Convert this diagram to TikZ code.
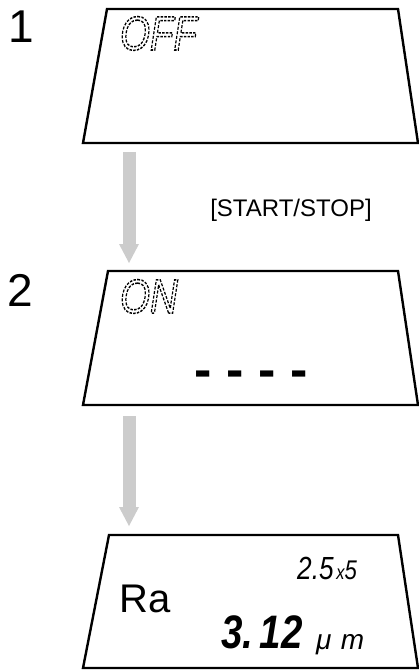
\documentclass[tikz,border=0pt]{standalone}
\usepackage{fontspec}
\setmainfont{Liberation Sans}
\usepackage{xcolor}
\usepackage{tikz}
\usetikzlibrary{
	arrows.meta
}
\definecolor{ArrowGray}{RGB}{204,204,204}
% 段码轮廓字（虚线描边）
\newcommand{\lcdoutline}[1]{\special{pdf:literal direct 1 Tr 1.5 w [3 1.6] 0 d}#1\special{pdf:literal direct 0 Tr [] 0 d}}

\begin{document}
\begin{tikzpicture}[x=1pt,y=-1pt,
		panel/.style={line width=2.4pt,line join=miter},
		flow/.style={ArrowGray,line width=13pt,-{Triangle[length=19pt,width=20pt,line width=0pt]}},
		stepno/.style={font=\fontsize{46}{46}\selectfont,anchor=base,inner sep=0pt},
		lcd/.style={font=\fontsize{48}{48}\selectfont\itshape,xscale=0.8,anchor=base west,inner sep=0pt},
		dashseg/.style={font=\fontsize{52}{52}\selectfont\bfseries,anchor=base,inner sep=0pt}]
		\useasboundingbox (0,0) rectangle (419,671);
		
		% 显示屏 1
		\coordinate (offTL) at (107,9);
		\coordinate (offTR) at (398,9);
		\coordinate (offBR) at (418,143);
		\coordinate (offBL) at (83,143);
		\draw[panel] (offTL) -- (offTR) -- (offBR) -- (offBL) -- cycle;
		
		% 显示屏 2
		\coordinate (onTL) at (108,271);
		\coordinate (onTR) at (398,271);
		\coordinate (onBR) at (418,405);
		\coordinate (onBL) at (83,405);
		\draw[panel] (onTL) -- (onTR) -- (onBR) -- (onBL) -- cycle;
		
		% 显示屏 3
		\coordinate (raTL) at (109,535);
		\coordinate (raTR) at (398,535);
		\coordinate (raBR) at (418,668);
		\coordinate (raBL) at (83,668);
		\draw[panel] (raTL) -- (raTR) -- (raBR) -- (raBL) -- cycle;
		
		% 灰色箭头
		\coordinate (flowOneTop) at (129,152);
		\coordinate (flowOneTip) at (129,263);
		\coordinate (flowTwoTop) at (129,416);
		\coordinate (flowTwoTip) at (129,526);
		\draw[flow] (flowOneTop) -- (flowOneTip);
		\draw[flow] (flowTwoTop) -- (flowTwoTip);
		
		% 步骤编号
		\node[stepno] (stepOne) at (21,43) {1};
		\node[stepno] (stepTwo) at (20.5,306) {2};
		
		% 按键
		\node[font=\fontsize{24}{24}\selectfont,anchor=base,inner sep=0pt] (keyLabel) at (291,216) {[START/STOP]};
		
		% 显示内容
		\node[lcd] (offText) at (120,50) {\lcdoutline{OFF}};
		\node[lcd] (onText) at (120,313) {\lcdoutline{ON}};
		\foreach \i/\x in {1/203,2/235,3/267,4/299}
			\node[dashseg] (dash\i) at (\x,387) {-};
		\node[font=\fontsize{40}{40}\selectfont,anchor=base west,inner sep=0pt] (paramText) at (119,612) {Ra};
		\node[font=\itshape\fontsize{32}{32}\selectfont,anchor=base west,inner sep=0pt,xscale=0.82] (cutoffText) at (297,579) {2.5{\fontsize{20}{20}\selectfont\,x}{\fontsize{27}{27}\selectfont 5}};
		\node[font=\bfseries\itshape\fontsize{47}{47}\selectfont,anchor=base west,inner sep=0pt,xscale=0.82] (valueText) at (221,648) {3.\,12};
		\node[font=\itshape\fontsize{28}{28}\selectfont,anchor=base west,inner sep=0pt] (unitText) at (316,649) {μ\,\,m};
	\end{tikzpicture}
\end{document}
